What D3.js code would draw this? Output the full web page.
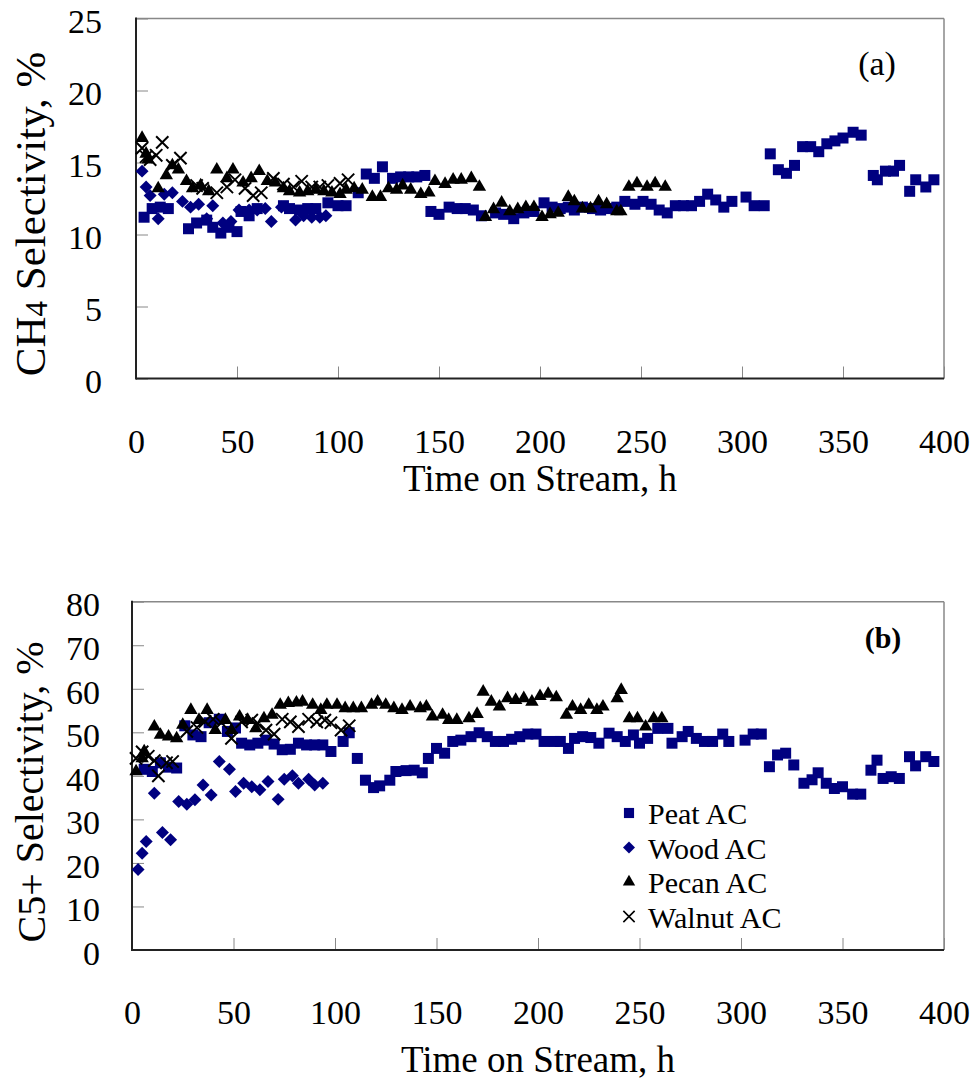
<!DOCTYPE html>
<html>
<head>
<meta charset="utf-8">
<script src="https://cdn.jsdelivr.net/npm/d3@7"></script>
<style>
body { margin: 0; background: #fff; }
svg { display: block; }
text { font-family: "Liberation Serif", "Times New Roman", serif; }
</style>
</head>
<body>
<svg id="figure" width="975" height="1080"></svg>
<script>
// DONNÉES ([temps h, sélectivité %])
const nomsSeries = ['Peat AC', 'Wood AC', 'Pecan AC', 'Walnut AC']
const graduationsX = [0, 50, 100, 150, 200, 250, 300, 350, 400]
const graduationsCH4 = [0, 5, 10, 15, 20, 25]
const graduationsC5 = [0, 10, 20, 30, 40, 50, 60, 70, 80]

const peatCH4 = [[4,11.2],[8,11.8],[12,11.9],[16,11.8],[26,10.4],[30,10.8],[35,11.0],[38,10.5],[42,10.1],[46,10.5],[50,10.2],[52,11.6],[56,11.3],[60,11.8],[73,12.0],[76,11.8],[81,11.7],[85,11.8],[89,11.8],[95,12.2],[100,12.0],[104,12.0],[110,12.9],[114,14.2],[118,13.9],[122,14.7],[127,13.9],[131,14.0],[135,14.0],[139,14.0],[143,14.1],[146,11.6],[150,11.4],[155,11.9],[159,11.8],[163,11.8],[167,11.7],[171,11.3],[178,11.5],[182,11.4],[187,11.1],[192,11.5],[197,11.6],[202,12.2],[206,11.9],[210,11.8],[214,11.9],[217,11.7],[221,11.9],[226,11.8],[230,11.7],[234,11.8],[238,11.9],[242,12.3],[247,12.1],[251,12.3],[255,12.1],[259,11.7],[263,11.5],[267,12.0],[271,12.0],[275,12.0],[279,12.3],[283,12.8],[287,12.4],[291,11.9],[295,12.3],[302,12.6],[306,12.0],[311,12.0],[314,15.6],[318,14.5],[322,14.25],[326,14.8],[330,16.1],[334,16.1],[338,15.75],[342,16.3],[346,16.5],[350,16.7],[355,17.1],[359,16.9],[365,14.1],[367,13.8],[371,14.4],[375,14.4],[378,14.8],[383,13.0],[386,13.8],[391,13.3],[395,13.8]]
const woodCH4 = [[3,14.4],[5,13.3],[7,12.7],[11,11.1],[14,12.8],[18,12.9],[23,12.3],[27,11.9],[31,12.1],[35,11.1],[38,12.0],[43,10.8],[47,10.9],[51,11.7],[56,11.7],[60,11.7],[64,11.8],[67,10.9],[72,11.9],[79,11.0],[83,11.3],[87,11.2],[91,11.2],[94,11.3]]
const pecanCH4 = [[3,16.7],[5,15.6],[6,15.2],[11,13.2],[15,14.1],[18,14.8],[21,14.5],[25,13.7],[28,13.2],[32,13.4],[36,13.0],[40,14.5],[45,13.9],[48,14.5],[53,13.6],[57,13.9],[61,14.4],[65,13.7],[69,13.6],[73,13.2],[76,13.0],[81,12.9],[85,13.0],[89,13.1],[93,13.0],[97,12.9],[101,12.8],[104,13.1],[108,13.2],[112,13.1],[117,12.6],[121,12.6],[125,13.2],[129,13.1],[132,13.4],[136,13.1],[141,12.8],[145,12.9],[148,13.7],[153,13.5],[157,13.8],[161,13.8],[166,13.9],[170,13.3],[173,11.2],[177,11.75],[181,12.2],[185,11.6],[189,11.75],[193,11.9],[197,11.9],[201,11.2],[205,11.4],[209,11.5],[214,12.6],[217,12.3],[221,11.8],[225,11.8],[229,12.3],[233,12.1],[238,11.6],[240,11.6],[244,13.3],[248,13.55],[253,13.3],[257,13.55],[262,13.3]]
const walnutCH4 = [[3,16.0],[5,15.4],[7,15.2],[10,15.5],[13,16.4],[18,14.8],[22,15.3],[30,13.4],[33,13.2],[40,12.9],[45,13.3],[49,13.8],[54,13.2],[58,12.7],[62,12.9],[68,13.9],[73,13.5],[78,13.3],[82,13.7],[87,13.3],[91,13.3],[95,13.4],[101,13.55],[105,13.8]]

const peatC5 = [[6,41.5],[10,41.0],[14,43.0],[18,42.0],[22,41.8],[26,51.5],[30,49.4],[34,49.0],[38,52.2],[43,53.0],[47,50.2],[51,51.0],[54,47.5],[58,47.1],[62,47.5],[66,48.2],[70,47.3],[74,46.0],[78,46.1],[82,47.5],[86,47.1],[90,47.1],[94,47.1],[98,45.6],[104,47.9],[107,49.9],[111,44.0],[115,39.0],[119,37.3],[122,37.7],[127,39.0],[130,41.0],[135,41.2],[139,41.3],[143,40.7],[146,44.0],[150,46.3],[154,45.2],[158,47.9],[162,48.2],[167,49.0],[171,49.9],[175,49.0],[179,47.9],[183,47.9],[187,48.4],[191,49.0],[195,49.6],[199,49.6],[203,47.9],[208,47.9],[211,47.9],[215,46.3],[218,48.6],[222,49.0],[226,48.8],[230,47.5],[235,49.8],[239,49.0],[243,47.9],[247,49.4],[250,47.5],[254,48.6],[259,50.9],[264,50.9],[266,47.5],[271,49.0],[274,50.2],[278,48.6],[282,47.9],[286,47.9],[291,49.6],[294,47.9],[302,48.2],[306,49.6],[310,49.6],[314,42.1],[318,44.8],[322,45.2],[326,42.5],[331,38.3],[335,39.1],[338,40.7],[342,38.3],[346,37.1],[350,37.5],[355,35.8],[359,35.8],[364,41.3],[367,43.6],[370,39.4],[374,39.8],[378,39.4],[383,44.4],[386,42.3],[391,44.4],[395,43.3]]
const woodC5 = [[3,18.5],[5,22.2],[7,24.9],[11,36.0],[15,27.0],[19,25.3],[23,34.1],[27,33.5],[31,34.5],[35,37.9],[39,35.6],[43,43.3],[48,41.5],[51,36.4],[55,38.3],[59,37.5],[63,36.8],[67,38.7],[72,34.6],[75,39.2],[79,40.0],[82,38.3],[87,39.2],[90,37.9],[94,38.3]]
const pecanC5 = [[2,41.0],[5,44.0],[6,45.6],[11,51.3],[14,49.4],[18,49.0],[22,48.6],[25,51.7],[29,55.1],[33,52.8],[37,55.1],[41,50.5],[46,52.8],[49,50.5],[53,53.6],[57,52.8],[61,50.9],[65,53.2],[69,54.0],[73,56.3],[77,56.7],[81,56.8],[84,57.0],[89,56.3],[93,55.1],[96,56.3],[101,56.3],[105,55.5],[109,55.5],[113,55.5],[118,56.3],[121,57.0],[125,56.3],[129,55.5],[133,55.1],[137,55.9],[142,55.5],[145,55.9],[148,53.6],[153,54.0],[156,52.8],[160,52.8],[166,53.2],[170,54.2],[173,59.3],[177,57.0],[181,55.9],[185,57.8],[189,57.4],[193,57.8],[197,57.0],[201,58.3],[205,58.8],[209,58.0],[214,54.0],[217,55.9],[221,55.1],[225,56.3],[229,55.1],[232,55.9],[239,57.8],[241,59.7],[245,53.2],[249,53.2],[253,51.3],[257,53.2],[261,53.2]]
const walnutC5 = [[2,44.0],[5,45.5],[8,44.5],[11,43.5],[13,40.0],[17,43.0],[20,43.3],[27,50.2],[32,51.1],[36,52.5],[40,53.0],[44,52.2],[49,48.6],[54,52.4],[59,52.8],[62,52.0],[66,50.5],[70,49.6],[74,53.0],[78,52.4],[82,51.3],[87,53.0],[91,52.4],[95,52.8],[98,52.2],[103,50.5],[107,51.5]]

// STYLE DES MARQUEURS (même ordre que nomsSeries)
const bleuMarine = '#000080'
const policeSerif = 'Liberation Serif, Times New Roman, serif'
const marqueurs = [
    { symbole: d3.symbolSquare, taille: 121, rotation: 0, couleur: bleuMarine, trait: false },
    { symbole: d3.symbolSquare, taille: 84, rotation: 45, couleur: bleuMarine, trait: false },
    { symbole: d3.symbolTriangle, taille: 78, rotation: 0, couleur: '#000', trait: false },
    { symbole: d3.symbolTimes, taille: 100, rotation: 0, couleur: '#000', trait: true }
]

const svg = d3.select('#figure')

/**
 * On dessine un panneau : cadre, graduations, points et titres.
 */
function dessinerPanneau(cadre, listeSeries, graduationsY, titreY, etiquette){
    const x = d3.scaleLinear().domain([0, 400]).range([cadre.gauche, cadre.droite])
    const y = d3.scaleLinear().domain([0, d3.max(graduationsY)]).range([cadre.bas, cadre.haut])

    // Axe vertical, graduations vers l'intérieur
    const axeY = svg.append('g')
        .attr('transform', `translate(${cadre.gauche},0)`)
        .call(d3.axisLeft(y).tickValues(graduationsY).tickSize(-12).tickPadding(cadre.ecartY))
        .attr('font-family', policeSerif)
        .attr('font-size', 34)
    axeY.select('.domain').remove()
    axeY.selectAll('line').attr('stroke', '#888').attr('stroke-width', 1)
    axeY.selectAll('text')
        .attr('dy', '0.42em')
        .attr('font-family', policeSerif)
        .attr('fill', '#000')

    // Axe horizontal
    const axeX = svg.append('g')
        .attr('transform', `translate(0,${cadre.bas})`)
        .call(d3.axisBottom(x).tickValues(graduationsX).tickSize(-12).tickPadding(50))
        .attr('font-family', policeSerif)
        .attr('font-size', 34)
    axeX.select('.domain').remove()
    axeX.selectAll('line').attr('stroke', '#888').attr('stroke-width', 1)
    axeX.selectAll('text')
        .attr('font-family', policeSerif)
        .attr('fill', '#000')

    // Cadre : haut et droite en gris, gauche et bas en noir
    svg.append('line')
        .style('stroke', '#888').style('stroke-width', 1.5)
        .attr('x1', cadre.gauche).attr('y1', cadre.haut)
        .attr('x2', cadre.droite).attr('y2', cadre.haut)
    svg.append('line')
        .style('stroke', '#888').style('stroke-width', 1.5)
        .attr('x1', cadre.droite).attr('y1', cadre.haut)
        .attr('x2', cadre.droite).attr('y2', cadre.bas)
    svg.append('line')
        .style('stroke', '#222').style('stroke-width', 2)
        .attr('x1', cadre.gauche).attr('y1', cadre.haut - 1)
        .attr('x2', cadre.gauche).attr('y2', cadre.bas + 1)
    svg.append('line')
        .style('stroke', '#222').style('stroke-width', 2)
        .attr('x1', cadre.gauche).attr('y1', cadre.bas)
        .attr('x2', cadre.droite).attr('y2', cadre.bas)

    // Points de chaque série
    listeSeries.forEach(function(donnees, i){
        const m = marqueurs[i]
        const forme = d3.symbol().type(m.symbole).size(m.taille)
        svg.append('g').selectAll('path')
            .data(donnees)
            .join('path')
            .attr('d', forme)
            .attr('transform', d => `translate(${x(d[0])},${y(d[1])}) rotate(${m.rotation})`)
            .attr('fill', m.trait ? 'none' : m.couleur)
            .attr('stroke', m.trait ? m.couleur : 'none')
            .attr('stroke-width', m.trait ? 2 : 0)
    })

    // Titres des axes
    svg.append('text')
        .attr('x', (cadre.gauche + cadre.droite) / 2)
        .attr('y', cadre.bas + cadre.ecartTitreX)
        .attr('text-anchor', 'middle')
        .attr('font-family', policeSerif)
        .style('font-size', '37px')
        .text('Time on Stream, h')
    const titre = svg.append('text')
        .attr('transform', `translate(45,${cadre.centreTitreY}) rotate(-90)`)
        .attr('text-anchor', 'middle')
        .attr('font-family', policeSerif)
        .style('font-size', cadre.tailleTitreY + 'px')
    titre.append('tspan').text(titreY[0])
    titre.append('tspan').text(titreY[1]).style('font-size', Math.round(cadre.tailleTitreY * 0.72) + 'px').attr('dy', 2)
    titre.append('tspan').text(titreY[2]).attr('dy', -2)

    // Étiquette du panneau
    svg.append('text')
        .attr('x', etiquette.x).attr('y', etiquette.y)
        .attr('text-anchor', 'middle')
        .attr('font-family', policeSerif)
        .style('font-size', etiquette.taille)
        .style('font-weight', etiquette.gras ? 'bold' : 'normal')
        .text(etiquette.texte)

    return { x, y }
}

dessinerPanneau(
    { gauche: 136, droite: 944, haut: 18.5, bas: 378.5, ecartY: 34, ecartTitreX: 112, centreTitreY: 214, tailleTitreY: 43 },
    [peatCH4, woodCH4, pecanCH4, walnutCH4],
    graduationsCH4,
    ['CH', '4', ' Selectivity, %'],
    { x: 877, y: 75, texte: '(a)', taille: '34px', gras: false }
)

dessinerPanneau(
    { gauche: 132, droite: 944, haut: 601.7, bas: 950, ecartY: 32, ecartTitreX: 122, centreTitreY: 792, tailleTitreY: 40 },
    [peatC5, woodC5, pecanC5, walnutC5],
    graduationsC5,
    ['C5+', '', ' Selectivity, %'],
    { x: 883, y: 648, texte: '(b)', taille: '30px', gras: true }
)

// LÉGENDE (panneau b)
const legende = svg.append('g').attr('transform', 'translate(629,813)')
nomsSeries.forEach(function(nom, i){
    const m = marqueurs[i]
    const ligne = legende.append('g').attr('transform', `translate(0,${i * 34.5})`)
    ligne.append('path')
        .attr('d', d3.symbol().type(m.symbole).size(m.taille * 0.85)())
        .attr('transform', `rotate(${m.rotation})`)
        .attr('fill', m.trait ? 'none' : m.couleur)
        .attr('stroke', m.trait ? m.couleur : 'none')
        .attr('stroke-width', m.trait ? 1.6 : 0)
    ligne.append('text')
        .attr('x', 19)
        .attr('y', 11)
        .attr('font-family', policeSerif)
        .style('font-size', '30px')
        .text(nom)
})
</script>
</body>
</html>
